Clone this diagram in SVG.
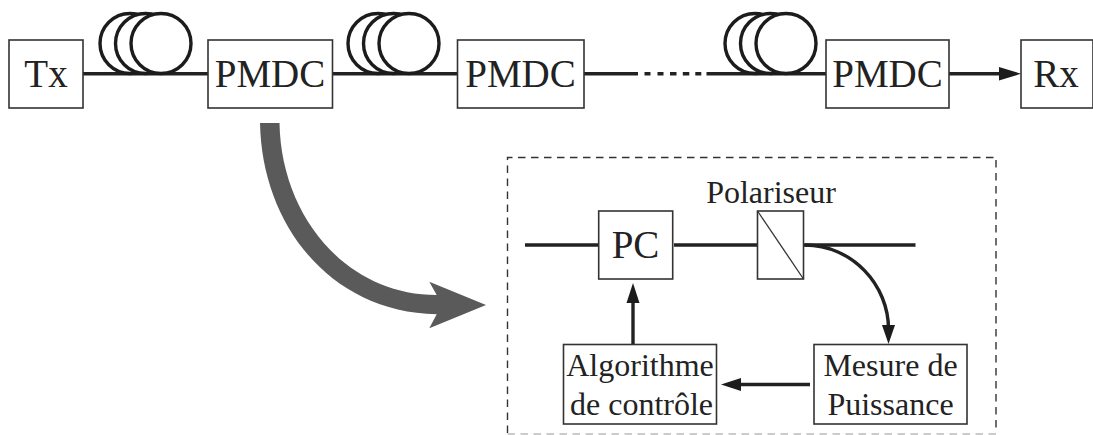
<svg xmlns="http://www.w3.org/2000/svg" width="1093" height="435" viewBox="0 0 1093 435">
<style>
.box{fill:#fff;stroke:#333;stroke-width:1.6}
.ln{fill:none;stroke:#222;stroke-width:3.400}
.coil{fill:#fff;stroke:#1c1c1c;stroke-width:3.400}
.big{font-family:"Liberation Serif","Times New Roman",serif;font-size:39px;fill:#222;text-anchor:middle}
.sm{font-family:"Liberation Serif","Times New Roman",serif;font-size:32px;fill:#222;text-anchor:middle}
.head{fill:#1c1c1c;stroke:none}
</style>
<rect width="1093" height="435" fill="#fff"/>
<g id="frame">
<path d="M507.5 433V157.500H996" fill="none" stroke="#333" stroke-width="1.4" stroke-dasharray="7.500 5.500"/>
<path d="M996 160V433" fill="none" stroke="#333" stroke-width="1.4" stroke-dasharray="7.500 5.500"/>
<path d="M507.5 434H996" fill="none" stroke="#bbb" stroke-width="1.4" stroke-dasharray="7.500 5.500"/>
</g>
<g id="connectors">
<path class="ln" d="M83 73.800H208M332 73.800H457M584 73.800H638M706.500 73.800H826M949 73.800H1005"/>
<path class="ln" d="M644.500 73.800h6M657.500 73.800h6M670 73.800h6.500M682.800 73.800h6.500M695.300 73.800h6"/>
<path class="head" d="M1021 73.800L999 67V80.500Z"/>
<path class="ln" d="M525 245H598.500M674 245H757.500M803.500 245H915.500"/>
<path class="ln" d="M805 245C852 245 889 285 888.500 330"/>
<path class="head" d="M888.500 344L882 325H895Z"/>
<path class="ln" d="M633 344V298"/>
<path class="head" d="M633 283L626.500 303H639.500Z"/>
<path class="ln" d="M810 384.500H735"/>
<path class="head" d="M721 384.500L741 378V391Z"/>
<path d="M260 123C262 225 330 312 436.700 314.300L429.300 328.300L486 305L429.300 281.700L436.700 295C345 295 281 215 279.500 123Z" fill="#5a5a5a"/>
</g>
<g id="fiber1"><circle class="coil" cx="130" cy="43.500" r="30"/><circle class="coil" cx="145.500" cy="43.500" r="30"/><circle class="coil" cx="161" cy="43.500" r="30"/></g>
<g id="fiber2"><circle class="coil" cx="378" cy="43.500" r="30"/><circle class="coil" cx="393.500" cy="43.500" r="30"/><circle class="coil" cx="409" cy="43.500" r="30"/></g>
<g id="fiber3"><circle class="coil" cx="755" cy="43.500" r="30"/><circle class="coil" cx="770.500" cy="43.500" r="30"/><circle class="coil" cx="786" cy="43.500" r="30"/></g>
<g id="tx"><rect class="box" x="9" y="40" width="74" height="68"/><text class="big" x="46" y="87">Tx</text></g>
<g id="pmdc1"><rect class="box" x="208" y="40" width="124.500" height="68"/><text class="big" x="270" y="87">PMDC</text></g>
<g id="pmdc2"><rect class="box" x="457.500" y="40" width="126.500" height="68"/><text class="big" x="520.500" y="87">PMDC</text></g>
<g id="pmdc3"><rect class="box" x="826" y="40" width="123" height="68"/><text class="big" x="887.500" y="87">PMDC</text></g>
<g id="rx"><rect class="box" x="1021" y="40" width="72" height="68"/><text class="big" x="1056" y="87">Rx</text></g>
<g id="pc"><rect class="box" x="598.700" y="211" width="74" height="68"/><text class="big" x="635.500" y="258">PC</text></g>
<g id="polariseur"><rect class="box" x="757.500" y="211" width="46" height="68"/><path d="M757.500 211L803.500 279" stroke="#333" stroke-width="1.300" fill="none"/><text class="sm" x="771" y="203">Polariseur</text></g>
<g id="algorithme"><rect class="box" x="563.500" y="344.500" width="153" height="79.500"/><text class="sm" x="640" y="376">Algorithme</text><text class="sm" x="641.500" y="415">de contrôle</text></g>
<g id="mesure"><rect class="box" x="814" y="344.500" width="153" height="79.500"/><text class="sm" x="890.500" y="376">Mesure de</text><text class="sm" x="890.500" y="415">Puissance</text></g>
</svg>
